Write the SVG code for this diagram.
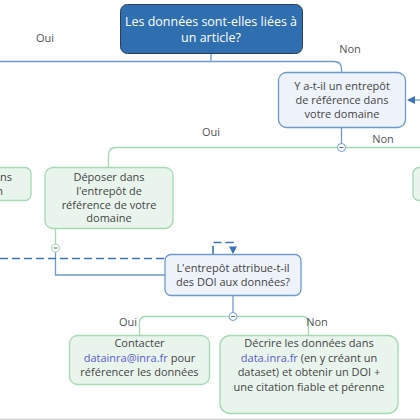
<svg xmlns="http://www.w3.org/2000/svg" width="420" height="420" viewBox="0 0 420 420">
<defs>
<style>
text{font-family:"Open Sans","Noto Sans","DejaVu Sans",sans-serif;font-size:11px;fill:#444;text-anchor:middle}
.lbl{fill:#555;font-size:11px}
.title{fill:#fff;font-size:12.5px}
.link{fill:#5a5ad2}
.blue{fill:#eef3fa;stroke:#6d9bd1;stroke-width:1.3}
.green{fill:#e9f5ec;stroke:#a3d9b3;stroke-width:1.3}
.cb{fill:none;stroke:#6d9bd1;stroke-width:1.3}
.cg{fill:none;stroke:#a3d9b3;stroke-width:1.3}
.dash{fill:none;stroke:#3a74bd;stroke-width:1.6;stroke-dasharray:8,4}
.knob{fill:#fff;stroke:#6d9bd1;stroke-width:1}
.knobg{fill:#fff;stroke:#a3d9b3;stroke-width:1}
.head{fill:#3a74bd}
</style>
</defs>
<rect width="420" height="420" fill="#fff"/>
<g id="connectors">
<path class="cb" d="M211,54 V61.5"/>
<path class="cb" d="M0,61.5 H334 Q341.5,61.5 341.5,69 V72"/>
<path class="cb" d="M341.5,128 V147"/>
<path class="cg" d="M420,147.5 H116 Q108.5,147.5 108.5,155 V167"/>
<path class="cg" d="M55.5,228 V248"/>
<path class="cb" d="M55.5,252 V275 H165"/>
<path class="dash" d="M0,258.5 H165"/>
<path class="dash" d="M213,254 V242.5 H233 V247" stroke-dasharray="6,3"/>
<path class="head" d="M229,246.5 L237,246.5 L233,254 Z"/>
<path class="cb" d="M420,100 H414"/>
<path class="head" d="M407,100 L415,96 L415,104 Z"/>
<path class="cb" d="M233,296 V316"/>
<path class="cg" d="M146,316.5 H302 Q308.5,316.5 308.5,323 V335 M146,316.5 Q139.5,316.5 139.5,323 V335"/>
<circle class="knob" cx="341.5" cy="147.5" r="4"/>
<path d="M339.5,147.5 H343.5" stroke="#666" stroke-width="1"/>
<circle class="knobg" cx="55.5" cy="248" r="4"/>
<path d="M53.5,248 H57.5" stroke="#666" stroke-width="1"/>
<circle class="knob" cx="233" cy="316.5" r="4"/>
<path d="M231,316.5 H235" stroke="#666" stroke-width="1"/>
<line x1="0" y1="419.5" x2="420" y2="419.5" stroke="#cfcfcf" stroke-width="1.5"/>
</g>
<g id="labels">
<text class="lbl" x="45" y="42">Oui</text>
<text class="lbl" x="350" y="53">Non</text>
<text class="lbl" x="211" y="136">Oui</text>
<text class="lbl" x="383" y="143">Non</text>
<text class="lbl" x="128" y="326">Oui</text>
<text class="lbl" x="317" y="326">Non</text>
</g>
<g id="n1">
<rect x="120.5" y="4.5" width="182" height="49" rx="7" fill="#2f6eaf" stroke="#2b3f58" stroke-width="1"/>
<text class="title" x="211" y="26">Les données sont-elles liées à</text>
<text class="title" x="211" y="42">un article?</text>
</g>
<g id="n2">
<rect class="blue" x="278.5" y="72.5" width="127" height="55" rx="8"/>
<text x="342" y="90">Y a-t-il un entrepôt</text>
<text x="342" y="104">de référence dans</text>
<text x="342" y="118">votre domaine</text>
</g>
<g id="n_left">
<rect class="green" x="-20" y="167.5" width="51" height="33" rx="6"/>
<text x="12" y="181" style="text-anchor:end">ans</text>
<text x="3" y="195" style="text-anchor:end">n</text>
</g>
<g id="n3">
<rect class="green" x="45" y="167.5" width="128" height="61" rx="8"/>
<text x="109" y="181">Déposer dans</text>
<text x="109" y="195">l'entrepôt de</text>
<text x="109" y="208.5">référence de votre</text>
<text x="109" y="222">domaine</text>
</g>
<g id="n_right">
<rect class="green" x="413" y="167.5" width="40" height="33" rx="6"/>
</g>
<g id="n4">
<rect class="blue" x="165" y="254.5" width="136" height="41" rx="6"/>
<text x="233" y="272">L'entrepôt attribue-t-il</text>
<text x="233" y="286">des DOI aux données?</text>
</g>
<g id="n5">
<rect class="green" x="69.5" y="335.5" width="140" height="49" rx="8"/>
<text x="139.5" y="347">Contacter</text>
<text x="139.5" y="362"><tspan class="link">datainra@inra.fr</tspan> pour</text>
<text x="139.5" y="376">référencer les données</text>
</g>
<g id="n6">
<rect class="green" x="220" y="335.5" width="178" height="78" rx="10"/>
<text x="309" y="347">Décrire les données dans</text>
<text x="309" y="362"><tspan class="link">data.inra.fr</tspan> (en y créant un</text>
<text x="309" y="376">dataset) et obtenir un DOI +</text>
<text x="309" y="391">une citation fiable et pérenne</text>
</g>
</svg>
